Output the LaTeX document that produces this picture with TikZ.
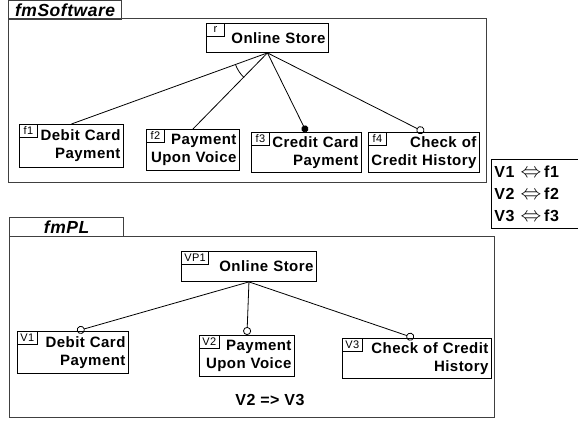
\documentclass[tikz,border=0pt]{standalone}
\usepackage{fontspec}
\setmainfont{Liberation Sans}[LetterSpace=3]
\usepackage{amssymb}
\usepackage{amsmath}
\usetikzlibrary{shapes,arrows.meta}
\tikzstyle{frame} = [draw=black!75, line width=1.2pt, anchor=north west, inner sep=0pt]
\tikzstyle{tab} = [frame, font=\fontsize{17.5}{18}\selectfont\bfseries\itshape]
\tikzstyle{feat} = [draw, line width=0.9pt, anchor=north west, align=right, inner xsep=3pt, inner ysep=0pt, font=\fontsize{15}{18}\selectfont\bfseries]
\tikzstyle{tag} = [draw, line width=0.8pt, anchor=north west, inner xsep=3pt, inner ysep=0pt, minimum width=18pt, minimum height=13pt, font=\fontsize{11}{11}\selectfont]
\tikzstyle{link} = [line width=0.8pt]
\tikzstyle{opt} = [link, -{Circle[open, length=8pt, width=8pt]}]
\tikzstyle{mand} = [link, -{Circle[length=7pt, width=7pt]}]
\newcommand{\eqv}{\hspace{6pt}{\fontsize{22}{22}\selectfont$\Leftrightarrow$}\hspace{3pt}}
\begin{document}
\begin{tikzpicture}[x=1pt, y=1pt]
\useasboundingbox (0,0) rectangle (578,421);
% feature model of the software
\node[frame, minimum width=478pt, minimum height=164pt] (frameSW) at (8,403) {};
\node[tab, minimum width=113pt, minimum height=19pt] (tabSW) at (8,421) {fmSoftware};
\node[feat, text width=116pt, minimum height=29pt] (root) at (206,398) {Online Store};
\node[tag] (rootT) at (root.north west) {r};
\node[feat, text width=98pt, minimum height=43pt] (f1) at (19,297) {Debit Card\\Payment};
\node[tag] (f1T) at (f1.north west) {f1};
\node[feat, text width=87pt, minimum height=41pt] (f2) at (146,292) {Payment\\Upon Voice};
\node[tag] (f2T) at (f2.north west) {f2};
\node[feat, text width=104pt, minimum height=40pt] (f3) at (251,289) {Credit Card\\Payment};
\node[tag] (f3T) at (f3.north west) {f3};
\node[feat, text width=105pt, minimum height=40pt] (f4) at (368,289) {Check of\\Credit History};
\node[tag] (f4T) at (f4.north west) {f4};
\draw[link] (root.south) -- (f1.north);
\draw[link] (root.south) -- (f2.north);
\draw[mand] (root.south) -- (f3.north);
\draw[opt] (root.south) -- (f4.north);
\draw[link] (root.south) ++(200.3:34pt) arc[start angle=200.3, end angle=226.5, radius=34pt];
% mapping
\node[feat, align=left, text width=82pt, minimum height=69pt, font=\fontsize{16}{22}\selectfont\bfseries] (legend) at (491,262) {V1\eqv f1\\V2\eqv f2\\V3\eqv f3};
% feature model of the product line
\node[frame, minimum width=485pt, minimum height=181pt] (framePL) at (9,185) {};
\node[tab, minimum width=114pt, minimum height=19pt] (tabPL) at (9,204) {fmPL};
\node[feat, text width=129pt, minimum height=30pt] (rootPL) at (181,170) {Online Store};
\node[tag] (rootPLT) at (rootPL.north west) {VP1};
\node[feat, text width=105pt, minimum height=42pt] (V1) at (17,90) {Debit Card\\Payment};
\node[tag] (V1T) at (V1.north west) {V1};
\node[feat, text width=89pt, minimum height=41pt] (V2) at (199,86) {Payment\\Upon Voice};
\node[tag] (V2T) at (V2.north west) {V2};
\node[feat, text width=143pt, minimum height=40pt] (V3) at (342,83) {Check of Credit\\History};
\node[tag] (V3T) at (V3.north west) {V3};
\draw[opt] (rootPL.south) -- ([xshift=4pt]V1.north);
\draw[opt] (rootPL.south) -- (V2.north);
\draw[opt] (rootPL.south) -- ([xshift=-3pt]V3.north);
\node[font=\fontsize{16}{18}\selectfont\bfseries] (cons) at (270,21) {V2 => V3};
\end{tikzpicture}
\end{document}
